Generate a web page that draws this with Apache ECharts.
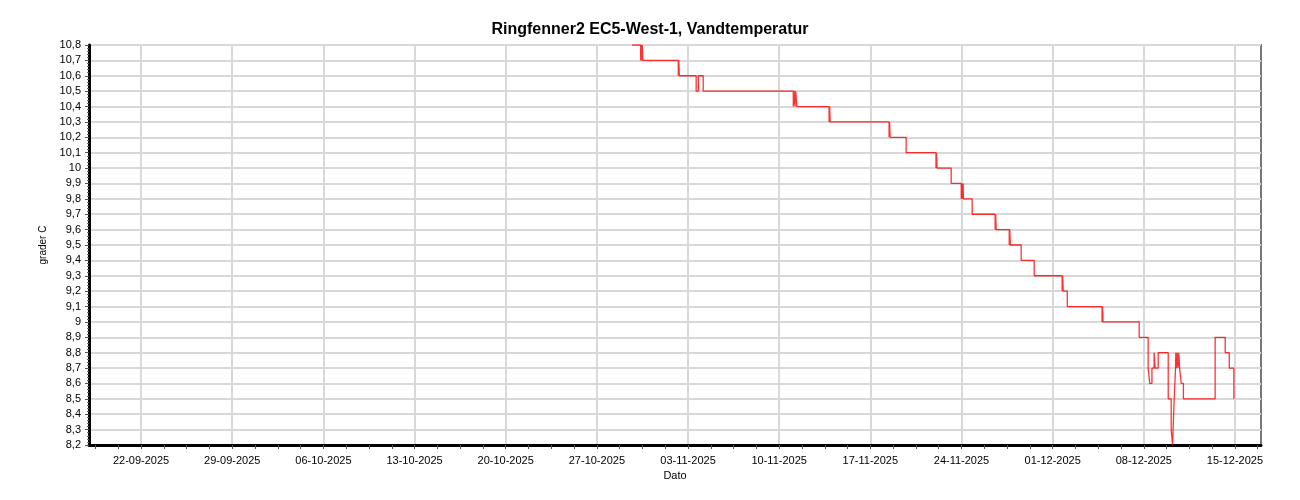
<!DOCTYPE html>
<html>
<head>
<meta charset="utf-8">
<script src="https://cdn.jsdelivr.net/npm/echarts@6/dist/echarts.min.js"></script>
<style>html,body{margin:0;padding:0;background:#fff}#c{width:1300px;height:500px}</style>
</head>
<body>
<div id="c"></div>
<script>
// ---- DATA ----
const title = 'Ringfenner2 EC5-West-1, Vandtemperatur';
const yName = 'grader C';
const xName = 'Dato';
const rangeStart = '2025-09-18 00:00';
const rangeEnd = '2025-12-17 00:00';
// Monday tick labels
const tickLabels = ['22-09-2025','29-09-2025','06-10-2025','13-10-2025','20-10-2025','27-10-2025','03-11-2025','10-11-2025','17-11-2025','24-11-2025','01-12-2025','08-12-2025','15-12-2025'];
// time of change -> new value (step)
const times = [
 '2025-10-29 17:00','2025-10-30 08:40','2025-10-30 09:40','2025-10-30 10:40','2025-10-30 11:40','2025-10-30 12:40',
 '2025-11-02 06:00','2025-11-02 07:00','2025-11-02 08:00',
 '2025-11-03 15:00','2025-11-03 19:00','2025-11-04 04:00',
 '2025-11-11 02:00','2025-11-11 03:30','2025-11-11 05:00','2025-11-11 06:30','2025-11-11 08:30',
 '2025-11-13 20:00','2025-11-13 21:00','2025-11-13 22:00',
 '2025-11-18 10:30','2025-11-18 11:30','2025-11-18 12:30',
 '2025-11-19 18:00',
 '2025-11-22 01:00','2025-11-22 02:00','2025-11-22 03:00',
 '2025-11-23 05:00',
 '2025-11-23 23:30','2025-11-24 01:00','2025-11-24 02:00','2025-11-24 03:00','2025-11-24 03:30',
 '2025-11-24 19:40',
 '2025-11-26 14:00','2025-11-26 15:00','2025-11-26 16:00',
 '2025-11-27 16:00','2025-11-27 17:00','2025-11-27 18:00',
 '2025-11-28 14:00',
 '2025-11-29 14:00',
 '2025-12-01 17:30','2025-12-01 18:30','2025-12-01 19:30',
 '2025-12-02 03:00',
 '2025-12-04 19:00','2025-12-04 20:00','2025-12-04 21:00',
 '2025-12-07 15:30',
 '2025-12-08 08:00','2025-12-08 11:00','2025-12-08 15:00','2025-12-08 19:00','2025-12-08 21:00',
 '2025-12-09 02:30',
 '2025-12-09 21:00','2025-12-10 02:30','2025-12-10 05:00','2025-12-10 08:00','2025-12-10 10:30',
 '2025-12-10 11:00','2025-12-10 12:00','2025-12-10 13:30','2025-12-10 15:00','2025-12-10 16:30','2025-12-10 18:00',
 '2025-12-10 21:00','2025-12-11 01:00',
 '2025-12-13 11:30',
 '2025-12-14 06:00','2025-12-14 13:30','2025-12-14 22:00'
];
const values = [
 10.8,10.7,10.8,10.7,10.8,10.7,
 10.6,10.7,10.6,
 10.5,10.6,10.5,
 10.4,10.5,10.4,10.5,10.4,
 10.3,10.4,10.3,
 10.2,10.3,10.2,
 10.1,
 10.0,10.1,10.0,
 9.9,
 9.8,9.9,9.8,9.9,9.8,
 9.7,
 9.6,9.7,9.6,
 9.5,9.6,9.5,
 9.4,
 9.3,
 9.2,9.3,9.2,
 9.1,
 9.0,9.1,9.0,
 8.9,
 8.7,8.6,8.7,8.8,8.7,
 8.8,
 8.5,8.3,8.2,8.5,8.7,
 8.8,8.7,8.8,8.7,8.8,8.7,
 8.6,8.5,
 8.9,
 8.8,8.7,8.5
];
const yMin = 8.2, yMax = 10.8, yStep = 0.1;

// ---- BUILD ----
function ms(s){const [d,t]=s.split(' ');const [Y,M,D]=d.split('-').map(Number);const [h,m]=(t||'00:00').split(':').map(Number);return Date.UTC(Y,M-1,D,h,m);}
const t0 = ms(rangeStart), t1 = ms(rangeEnd);
const slot = 6*3600*1000;
const nSlots = Math.round((t1-t0)/slot);
function fmtDate(t){const d=new Date(t);const p=n=>String(n).padStart(2,'0');return p(d.getUTCDate())+'-'+p(d.getUTCMonth()+1)+'-'+d.getUTCFullYear();}
const cats = [];
const labelIdx = {};
for(let i=0;i<=nSlots;i++){
  const t=t0+i*slot; const s=fmtDate(t);
  const isLbl = (new Date(t).getUTCHours()===0) && tickLabels.indexOf(s)>=0;
  if(isLbl) labelIdx[i]=true;
  cats.push(isLbl ? s : '');
}
const firstLbl = Math.min(...Object.keys(labelIdx).map(Number));
const seriesData = times.map((s,i)=>[ms(s), values[i]]);
const FONT = 'Liberation Sans, Arial, sans-serif';

const chart = echarts.init(document.getElementById('c'), null, {renderer:'canvas'});
chart.setOption({
  animation:false,
  backgroundColor:'#fff',
  title:{text:title,left:'center',top:17,textStyle:{fontFamily:FONT,fontSize:16,fontWeight:'bold',color:'#000'}},
  grid:{left:89,right:39,top:45,bottom:55,show:true,borderColor:'#777',borderWidth:2,backgroundColor:'transparent'},
  xAxis:[
    {type:'value',min:t0,max:t1,show:false,splitLine:{show:false}},
    {type:'category',data:cats,boundaryGap:false,position:'bottom',
     name:xName,nameLocation:'middle',nameGap:24,nameTextStyle:{fontFamily:FONT,fontSize:11,color:'#000'},
     axisLine:{show:true,lineStyle:{color:'#000',width:3}},
     axisTick:{show:true,length:4,interval:(i)=>((i-firstLbl)%7===0),lineStyle:{color:'#555',width:1}},
     axisLabel:{show:true,interval:(i)=>!!labelIdx[i],margin:10,fontFamily:FONT,fontSize:11,color:'#000'},
     splitLine:{show:true,interval:(i)=>!!labelIdx[i],lineStyle:{color:'#d8d8d8',width:2}}}
  ],
  yAxis:{type:'value',min:yMin,max:yMax,interval:yStep,
     name:yName,nameLocation:'middle',nameGap:41,nameTextStyle:{fontFamily:FONT,fontSize:10,color:'#000'},
     axisLine:{show:true,lineStyle:{color:'#000',width:3}},
     axisTick:{show:true,length:4,lineStyle:{color:'#555'}},
     minorTick:{show:true,splitNumber:5,length:2,lineStyle:{color:'#666'}},
     axisLabel:{margin:8,fontFamily:FONT,fontSize:11,color:'#000',
       formatter:(v)=>{const r=Math.round(v*10)/10;return (Number.isInteger(r)?String(r):r.toFixed(1)).replace('.',',');}},
     splitLine:{show:true,lineStyle:{color:'#d8d8d8',width:2}}},
  series:[{type:'line',xAxisIndex:0,data:seriesData,step:'end',showSymbol:false,symbol:'none',
     lineStyle:{color:'#ff0000',width:1.3,opacity:0.8},clip:true}]
});
</script>
</body>
</html>
